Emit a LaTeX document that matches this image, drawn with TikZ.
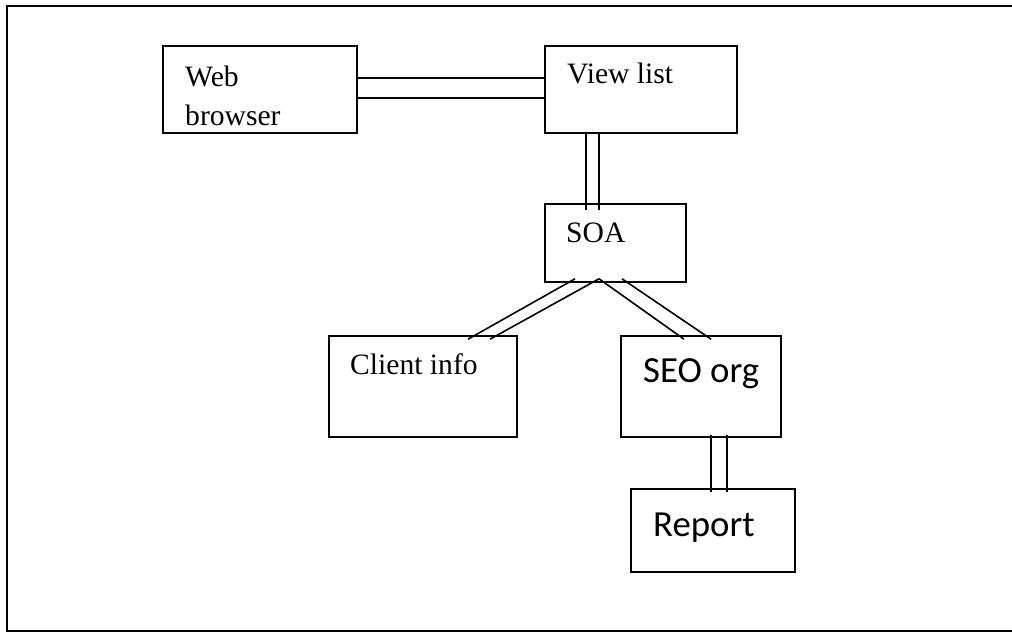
\documentclass[tikz,border=0pt]{standalone}
\usepackage{fontspec}
\setmainfont{Liberation Serif}
\newfontfamily\calibrilike{Carlito}
\usetikzlibrary{calc}
\begin{document}
\begin{tikzpicture}[x=1pt,y=-1pt,
  box/.style={draw, line width=1.6pt, rectangle, inner sep=0pt},
  lbl/.style={inner sep=0pt, anchor=base west, font=\fontsize{29.6}{39}\selectfont},
  lblsans/.style={inner sep=0pt, anchor=base west, font=\calibrilike\fontsize{36.8}{44}\selectfont},
  link/.style={line width=1.6pt}]
\useasboundingbox (0,0) rectangle (1012,632);
% outer frame (open on the right)
\draw[line width=1.8pt] (1012,6) -- (7,6) -- (7,631) -- (1012,631);

% boxes
\node[box, minimum width=194pt, minimum height=87pt] (web) at (260,89.5) {};
\node[box, minimum width=192pt, minimum height=87pt] (view) at (641,89.5) {};
\node[box, minimum width=141pt, minimum height=78pt] (soa) at (615.5,243) {};
\node[box, minimum width=188pt, minimum height=101pt] (client) at (423,386.5) {};
\node[box, minimum width=160pt, minimum height=101pt] (seo) at (701,386.5) {};
\node[box, minimum width=164pt, minimum height=83pt] (report) at (713,530.5) {};

% labels
\node[lbl] (webtxt) at (185,86) {Web};
\node[lbl] (browsertxt) at (185,125) {browser};
\node[lbl] (viewtxt) at (567,83) {View list};
\node[lbl] (soatxt) at (566,242) {SOA};
\node[lbl] (clienttxt) at (350,374) {Client info};
\node[lblsans] (seotxt) at (643,382) {SEO org};
\node[lblsans] (reporttxt) at (653,536) {Report};

% double connectors
\draw[link] (web.east |- 0,78) -- (view.west |- 0,78);
\draw[link] (web.east |- 0,98) -- (view.west |- 0,98);

\draw[link] (view.south -| 586,0) -- ($(soa.north -| 586,0)+(0,7)$);
\draw[link] (view.south -| 599,0) -- ($(soa.north -| 599,0)+(0,7)$);

\draw[link] ($(soa.south -| 575,0)+(0,-4)$) -- ($(client.north -| 468,0)+(0,4)$);
\draw[link] ($(soa.south -| 599,0)+(0,-4)$) -- ($(client.north -| 490,0)+(0,4)$);
\draw[link] ($(soa.south -| 599,0)+(0,-4)$) -- ($(seo.north -| 684,0)+(0,4)$);
\draw[link] ($(soa.south -| 622,0)+(0,-4)$) -- ($(seo.north -| 711,0)+(0,4)$);

\draw[link] ($(seo.south -| 711,0)+(0,-3)$) -- ($(report.north -| 711,0)+(0,4)$);
\draw[link] ($(seo.south -| 727,0)+(0,-3)$) -- ($(report.north -| 727,0)+(0,4)$);
\end{tikzpicture}
\end{document}
